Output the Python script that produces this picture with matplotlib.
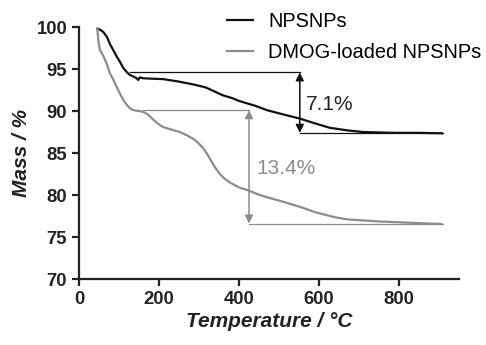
import matplotlib
matplotlib.use("Agg")
import matplotlib.pyplot as plt

plt.rcParams['font.family'] = ['Liberation Sans', 'DejaVu Sans']

# NPSNPs TGA curve
temp_np = [46, 52, 61, 70, 77, 85, 94, 103, 111, 120, 127, 136, 144, 148, 152, 160,
           180, 210, 250, 292, 317, 340, 358, 385, 400, 442, 470, 510, 552, 585,
           627, 670, 710, 750, 793, 850, 907]
mass_np = [99.8, 99.7, 99.4, 98.8, 98.0, 97.3, 96.5, 95.8, 95.1, 94.6, 94.3, 94.1,
           93.9, 93.7, 94.0, 93.9, 93.85, 93.8, 93.5, 93.1, 92.8, 92.3, 91.9, 91.5,
           91.2, 90.6, 90.1, 89.6, 89.1, 88.6, 88.0, 87.7, 87.5, 87.45, 87.4, 87.4,
           87.35]

# DMOG-loaded NPSNPs TGA curve
temp_dm = [46, 48, 52, 58, 65, 71, 77, 85, 94, 103, 111, 120, 128, 136, 150, 160,
           172, 185, 200, 210, 230, 252, 270, 285, 298, 310, 320, 330, 340, 352,
           365, 377, 400, 420, 452, 480, 510, 552, 594, 620, 635, 670, 702, 750,
           802, 850, 906]
mass_dm = [99.8, 98.5, 97.3, 96.8, 96.1, 95.4, 94.5, 93.8, 92.9, 92.0, 91.3, 90.7,
           90.3, 90.1, 90.0, 89.9, 89.6, 89.0, 88.4, 88.1, 87.8, 87.5, 87.1, 86.7,
           86.2, 85.6, 84.9, 84.1, 83.3, 82.5, 81.9, 81.5, 80.9, 80.6, 80.0, 79.6,
           79.2, 78.6, 77.9, 77.6, 77.4, 77.1, 77.0, 76.85, 76.75, 76.65, 76.55]

# mass-loss brackets: [x start, arrow x, x end, top, bottom]
bracket_np = [127, 552, 910, 94.6, 87.4]
bracket_dm = [160, 425, 910, 90.1, 76.6]
labels_pct = ["7.1%", "13.4%"]

black = "#111111"
gray = "#8c8c8c"

fig = plt.figure(figsize=(4.86, 3.45), dpi=100)
ax = fig.add_axes([0.1626, 0.1913, 0.7818, 0.7304])

ax.plot(temp_np, mass_np, color=black, lw=1.6, label="NPSNPs")
ax.plot(temp_dm, mass_dm, color=gray, lw=1.6, label="DMOG-loaded NPSNPs")

for br, col in [(bracket_np, black), (bracket_dm, gray)]:
    x0, xa, x1, top, bot = br
    ax.plot([x0, xa], [top, top], color=col, lw=0.9)
    ax.plot([xa, x1], [bot, bot], color=col, lw=0.9)
    ax.annotate("", xy=(xa, bot), xytext=(xa, top),
                arrowprops=dict(arrowstyle="<|-|>", color=col, lw=1.1,
                                mutation_scale=12, shrinkA=0, shrinkB=0))

ax.text(568, 90.8, labels_pct[0], color="#222222", fontsize=15, va="center", ha="left")
ax.text(443, 83.2, labels_pct[1], color=gray, fontsize=15, va="center", ha="left")

ax.set_xlim(0, 950)
ax.set_ylim(70, 100)
ax.set_xticks([0, 200, 400, 600, 800])
ax.set_yticks([70, 75, 80, 85, 90, 95, 100])
for s in ["top", "right"]:
    ax.spines[s].set_visible(False)
for s in ["left", "bottom"]:
    ax.spines[s].set_linewidth(1.6)
    ax.spines[s].set_color("#222222")
ax.tick_params(width=1.6, length=5, labelsize=13.3, color="#222222", labelcolor="#222222")
for lab in ax.get_xticklabels() + ax.get_yticklabels():
    lab.set_fontweight("bold")

ax.set_xlabel("Temperature / °C", fontsize=15, fontweight="bold", style="italic",
              color="#222222", labelpad=3)
ax.set_ylabel("Mass / %", fontsize=15, fontweight="bold", style="italic",
              color="#222222", labelpad=4)

ax.legend(loc="upper left", bbox_to_anchor=(0.451, 0.987), bbox_transform=fig.transFigure,
          frameon=False, fontsize=14.4, handlelength=1.3, handletextpad=0.75,
          labelspacing=0.58, borderaxespad=0)

fig.savefig("out.png", dpi=100)
